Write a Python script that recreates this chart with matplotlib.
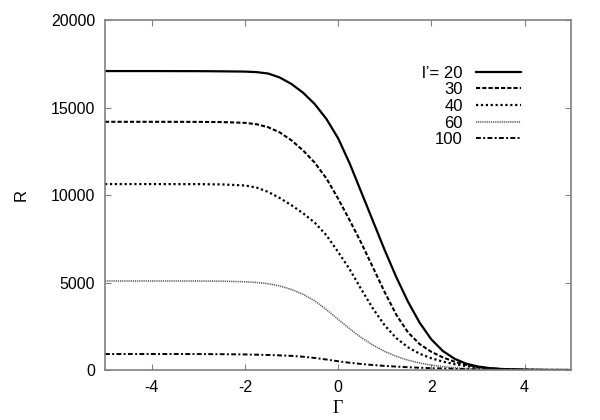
import matplotlib
matplotlib.use("Agg")
import matplotlib.pyplot as plt

# values
gamma = [-5, -4, -3, -2.5, -2, -1.75, -1.5, -1.25, -1.0, -0.75, -0.5, -0.25,
         0, 0.25, 0.5, 0.75, 1.0, 1.25, 1.5, 1.75, 2.0, 2.25, 2.5, 2.75,
         3.0, 3.25, 3.5, 4, 4.5, 5]

r_20 = [17090, 17090, 17085, 17075, 17060, 17030, 16950, 16720, 16350, 15850,
        15200, 14350, 13250, 11800, 10150, 8500, 6850, 5300, 3900, 2700,
        1750, 1080, 640, 360, 200, 110, 60, 18, 5, 1]
r_30 = [14190, 14190, 14185, 14175, 14130, 14050, 13880, 13580, 13130, 12550,
        11850, 10950, 9800, 8550, 7250, 5850, 4450, 3150, 2150, 1480,
        1040, 720, 470, 290, 170, 95, 50, 14, 4, 1]
r_40 = [10630, 10630, 10625, 10610, 10550, 10430, 10180, 9830, 9420, 8960,
        8420, 7700, 6750, 5750, 4600, 3500, 2550, 1820, 1300, 930,
        670, 480, 330, 220, 140, 85, 50, 15, 4, 1]
r_60 = [5090, 5090, 5088, 5080, 5045, 5005, 4935, 4805, 4605, 4325,
        3955, 3455, 2900, 2350, 1850, 1420, 1060, 780, 560, 400,
        280, 190, 130, 85, 55, 35, 22, 7, 2, 0]
r_100 = [914, 914, 912, 905, 890, 877, 860, 838, 808, 760,
         690, 600, 500, 415, 345, 285, 235, 195, 160, 130,
         105, 85, 66, 50, 38, 28, 20, 9, 3, 0]

labels = ["l\u2019= 20", "30", "40", "60", "100"]
series = [r_20, r_30, r_40, r_60, r_100]
styles = [
    dict(color="black", lw=1.6, ls="-"),
    dict(color="black", lw=1.5, ls=(0, (2.0, 1.0))),
    dict(color="black", lw=1.6, ls=(0, (1.0, 1.2))),
    dict(color="#555555", lw=1.1, ls=(0, (0.8, 0.6))),
    dict(color="black", lw=1.4, ls=(0, (2.5, 1.2, 1.0, 1.2))),
]

plt.rcParams["font.family"] = ["Liberation Sans", "DejaVu Sans"]
plt.rcParams["axes.unicode_minus"] = False

fig = plt.figure(figsize=(6, 4.2), dpi=100)
ax = fig.add_axes([0.175, 0.119, 0.777, 0.833])

for r, lab, st in zip(series, labels, styles):
    ax.plot(gamma, r, label=lab, **st)

ax.set_xlim(-5, 5)
ax.set_ylim(0, 20000)
ax.set_xticks([-4, -2, 0, 2, 4])
ax.set_yticks([0, 5000, 10000, 15000, 20000])
ax.tick_params(direction="in", length=4, width=0.8, color="#808080",
               top=True, right=True, labelsize=11.5, pad=7)
for sp in ax.spines.values():
    sp.set_color("#808080")
    sp.set_linewidth(1.2)

ax.set_ylabel("R", fontsize=12, labelpad=16)
ax.set_xlabel("\u0393", fontsize=13, family=["Liberation Serif", "DejaVu Serif"],
              labelpad=4)

leg = ax.legend(loc="upper right", bbox_to_anchor=(0.925, 0.913), frameon=False,
                fontsize=12, handlelength=2.7, handletextpad=0.8,
                labelspacing=0.1, markerfirst=False)
for t in leg.get_texts():
    t.set_ha("right")
leg._legend_box.align = "right"

fig.savefig("out.png", dpi=100)
